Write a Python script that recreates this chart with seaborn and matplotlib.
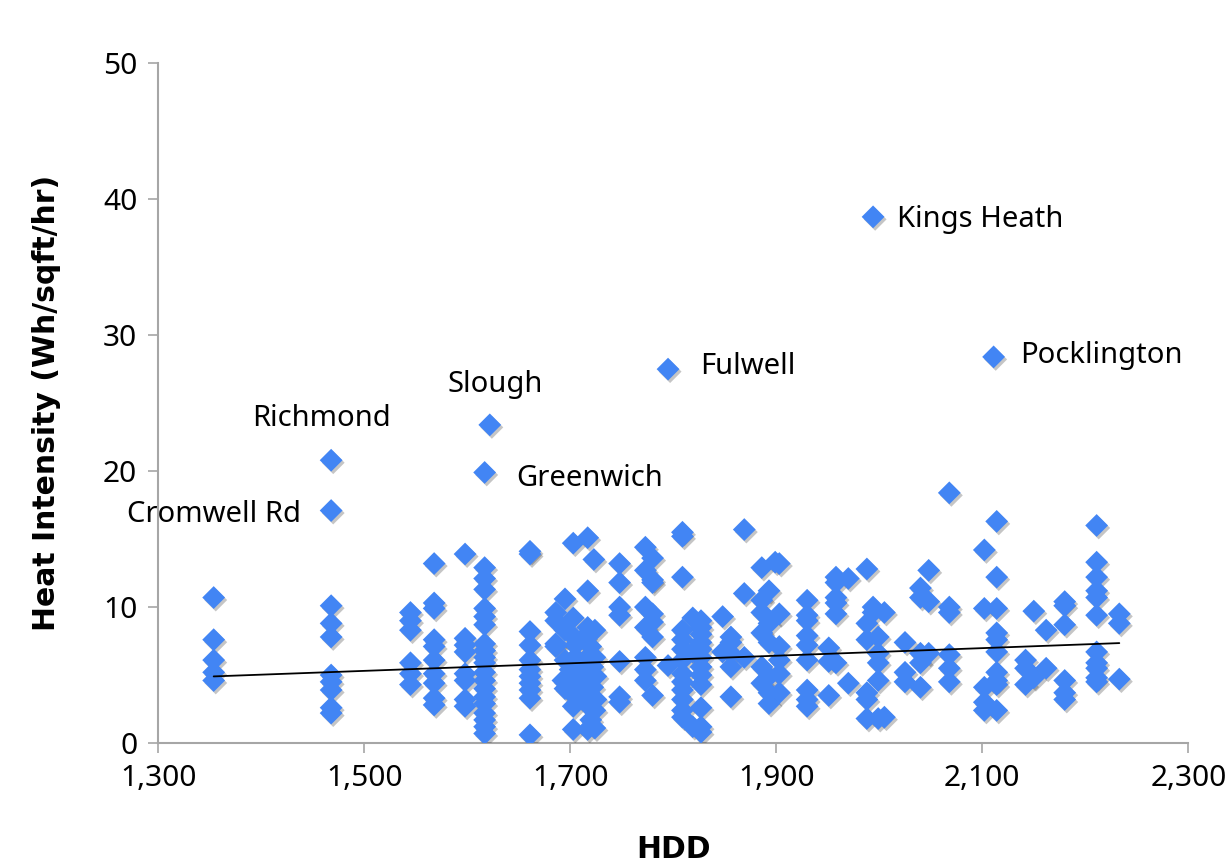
import pandas as pd
import matplotlib
matplotlib.use("Agg")
import matplotlib.pyplot as plt
import matplotlib.patheffects as pe
from matplotlib.ticker import FuncFormatter
import seaborn as sns

# HDD for each weather station and the heat intensity of the sites using it
station_hdd = [
    1354, 1468, 1545, 1568, 1598, 1617, 1622, 1661,
    1686, 1693, 1695, 1700, 1701, 1703, 1705, 1708, 1711, 1714,
    1717, 1720, 1722, 1723, 1724, 1725, 1748, 1773, 1780, 1795,
    1809, 1819, 1827, 1848, 1856, 1869, 1886, 1893, 1899, 1903,
    1930, 1951, 1958, 1970, 1988, 1994, 1999, 2005, 2025, 2040,
    2048, 2068, 2102, 2111, 2114, 2142, 2150, 2162, 2180, 2211, 2233,
]
heat_by_station = [
    [10.7, 7.6, 6.1, 5.2, 4.6],
    [20.8, 17.1, 10.1, 8.8, 7.8, 5.0, 4.5, 3.9, 2.6, 2.2],
    [9.6, 9.0, 8.3, 5.9, 5.1, 4.3],
    [13.2, 10.3, 9.9, 7.6, 7.1, 6.1, 5.1, 4.4, 3.3, 2.8],
    [13.9, 7.7, 7.2, 6.7, 5.1, 4.6, 3.2, 2.7],
    [19.9, 12.9, 12.1, 11.3, 9.9, 9.3, 8.7, 7.3, 6.8, 6.3, 5.9, 5.2, 4.6,
     4.0, 3.4, 2.9, 2.2, 1.7, 1.2, 0.7],
    [23.4],
    [14.1, 13.9, 8.2, 7.2, 6.1, 5.4, 4.9, 4.4, 3.9, 3.3, 0.6],
    [9.6, 9.0, 7.3, 7.1],
    [4.6],
    [10.6, 8.3, 6.1, 4.0],
    [5.4],
    [4.6],
    [14.7, 9.2, 2.7, 1.0],
    [7.7, 7.2, 6.3, 3.4],
    [4.0],
    [5.4],
    [7.8],
    [15.1, 11.2, 8.5, 6.3, 4.9, 3.4, 2.8, 1.0],
    [7.1, 1.7],
    [5.6, 4.1],
    [13.5],
    [8.3, 6.3, 2.4, 1.1],
    [4.9, 3.2],
    [13.2, 11.8, 10.0, 9.4, 6.0, 3.4, 3.0],
    [14.4, 12.7, 10.0, 8.5, 6.3, 5.4, 4.6],
    [13.6, 12.0, 11.8, 9.5, 8.9, 7.8, 3.5],
    [27.5, 5.7],
    [15.5, 15.2, 12.2, 8.3, 7.6, 6.9, 6.1, 5.1, 4.5, 3.9, 3.2, 2.4, 1.9],
    [9.2, 6.7, 1.2],
    [9.0, 8.5, 8.0, 7.4, 6.9, 6.3, 5.6, 5.0, 4.3, 2.6, 1.2, 0.8],
    [9.3, 6.7],
    [7.8, 7.4, 6.6, 5.6, 3.4],
    [15.7, 11.0, 6.3],
    [12.9, 10.5, 9.6, 8.1, 5.6, 4.4],
    [11.2, 8.8, 7.4, 4.9, 3.7, 2.9],
    [13.3],
    [13.2, 9.5, 7.1, 6.1, 5.1, 3.7],
    [10.5, 9.4, 9.0, 7.9, 7.2, 6.1, 3.9, 3.2, 2.7],
    [7.0, 6.0, 3.5],
    [12.2, 11.8, 10.7, 10.3, 9.5, 5.9],
    [12.1, 4.4],
    [12.8, 8.8, 7.6, 3.7, 3.2, 1.8],
    [38.7, 10.0, 9.6],
    [7.8, 6.6, 5.9, 4.6, 1.8],
    [9.6, 1.9],
    [7.4, 5.2, 4.5],
    [11.4, 10.7, 6.6, 5.9, 4.1],
    [12.7, 10.4, 6.6],
    [18.4, 10.0, 9.6, 6.5, 5.5, 4.5],
    [14.2, 9.9, 4.1, 3.0, 2.4],
    [28.4],
    [16.3, 12.2, 9.9, 8.1, 7.6, 6.7, 5.2, 4.6, 4.3, 2.4],
    [6.1, 5.5, 4.3],
    [9.7, 4.8],
    [8.3, 5.5],
    [10.4, 10.1, 8.7, 4.6, 3.7, 3.2],
    [16.0, 13.3, 12.2, 11.2, 10.7, 9.4, 6.7, 5.9, 5.5, 4.8, 4.5],
    [9.5, 8.8, 4.7],
]

# outlier sites that carry a name on the chart
label_names = ["Richmond", "Cromwell Rd", "Slough", "Greenwich",
               "Fulwell", "Kings Heath", "Pocklington"]
label_hdd = [1468, 1468, 1622, 1617, 1795, 1994, 2111]
label_heat = [20.8, 17.1, 23.4, 19.9, 27.5, 38.7, 28.4]

# linear trend line as drawn on the chart (ends)
trend_hdd = [1354, 2233]
trend_heat = [4.9, 7.35]

x_ticks = [1300, 1500, 1700, 1900, 2100, 2300]
y_ticks = [0, 10, 20, 30, 40, 50]

rows = []
for h, vals in zip(station_hdd, heat_by_station):
    for v in vals:
        rows.append((h, v))
df = pd.DataFrame(rows, columns=["HDD", "heat"])
trend = pd.DataFrame({"HDD": trend_hdd, "heat": trend_heat})

sns.set_theme(style="white")
plt.rcParams['font.family'] = ['Noto Sans', 'DejaVu Sans']
plt.rcParams['text.color'] = 'black'
plt.rcParams['axes.labelcolor'] = 'black'

blue = "#4285F4"
grey = "#a6a6a6"

fig = plt.figure(figsize=(12.28, 8.66), dpi=100)
ax = fig.add_axes([0.1287, 0.142, 0.8390, 0.785])

sns.scatterplot(data=df, x="HDD", y="heat", marker="D", s=135,
                color=blue, edgecolor="none", ax=ax, zorder=3)
ax.collections[0].set_path_effects([
    pe.SimplePatchShadow(offset=(1.5, -1.8), shadow_rgbFace="k", alpha=0.25),
    pe.Normal()])

sns.lineplot(data=trend, x="HDD", y="heat", color="black", linewidth=1.3,
             ax=ax, zorder=4)

# where each name sits relative to its point (offset in points, alignment)
placement = {
    "Richmond": ((-7, 30), "center"),
    "Cromwell Rd": ((-22, -3), "right"),
    "Slough": ((4, 29), "center"),
    "Greenwich": ((23, -4), "left"),
    "Fulwell": ((23, 2), "left"),
    "Kings Heath": ((17, -2), "left"),
    "Pocklington": ((19, 1), "left"),
}
for name, hx, hy in zip(label_names, label_hdd, label_heat):
    off, ha = placement[name]
    ax.annotate(name, (hx, hy), xytext=off, textcoords="offset points",
                ha=ha, va="center", fontsize=21, color="black")

ax.set_xlim(1300, 2300)
ax.set_ylim(0, 50)
ax.set_xticks(x_ticks)
ax.set_yticks(y_ticks)
ax.xaxis.set_major_formatter(FuncFormatter(lambda v, p: f"{int(v):,}"))

for side in ["top", "right"]:
    ax.spines[side].set_visible(False)
for side in ["left", "bottom"]:
    ax.spines[side].set_color(grey)
    ax.spines[side].set_linewidth(1.5)

ax.tick_params(axis="both", which="major", direction="out", length=7,
               width=1.2, color=grey, labelsize=21.5, labelcolor="black",
               left=True, bottom=True)
ax.tick_params(axis="x", pad=8)
ax.tick_params(axis="y", pad=8)

ax.set_xlabel("HDD", fontsize=21.5, fontweight="bold", labelpad=30,
              family="DejaVu Sans")
ax.set_ylabel("Heat Intensity (Wh/sqft/hr)", fontsize=21.5, fontweight="bold",
              labelpad=30, family="DejaVu Sans")
ax.grid(False)

fig.savefig("out.png", dpi=100)
